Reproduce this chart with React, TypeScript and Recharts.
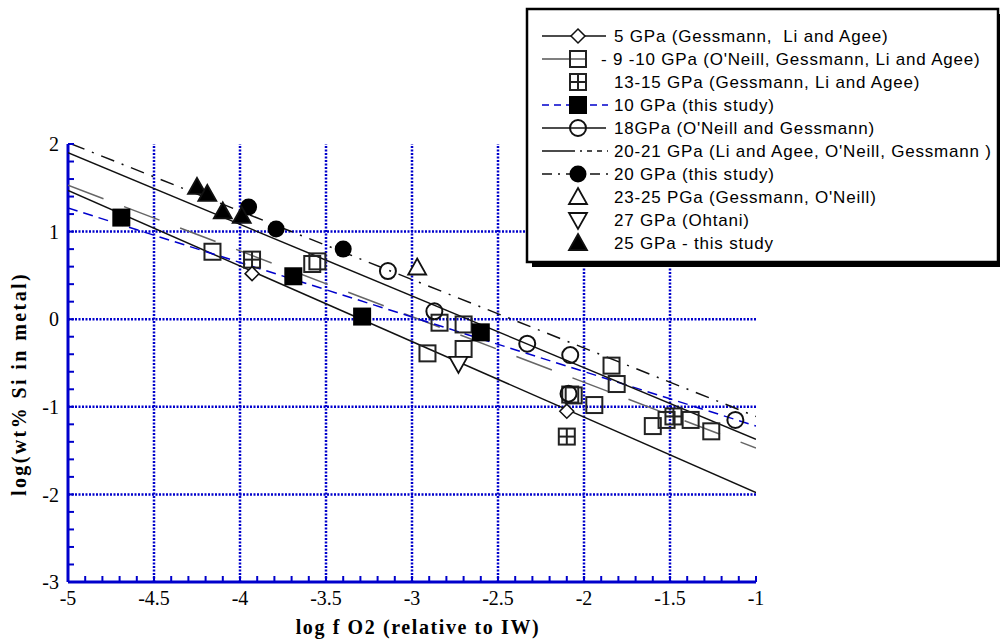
import React from 'react';
import { ComposedChart, Scatter, XAxis, YAxis, ReferenceLine } from 'recharts';

// axis ticks
const xMajor = [-5, -4.5, -4, -3.5, -3, -2.5, -2, -1.5, -1];
const yMajor = [-3, -2, -1, 0, 1, 2];
const xMinor: number[] = [];
for (let i = 0; i <= 40; i++) xMinor.push(Math.round((-5 + i * 0.1) * 10) / 10);
const yMinor: number[] = [];
for (let i = 0; i <= 25; i++) yMinor.push(Math.round((-3 + i * 0.2) * 10) / 10);

// data points
const gpa5 = [{ x: -3.93, y: 0.52 }, { x: -2.1, y: -1.05 }];
const gpa9 = [
  { x: -4.16, y: 0.77 }, { x: -3.58, y: 0.63 }, { x: -3.55, y: 0.66 },
  { x: -2.91, y: -0.39 }, { x: -2.84, y: -0.04 }, { x: -2.7, y: -0.06 },
  { x: -2.7, y: -0.34 }, { x: -2.08, y: -0.86 }, { x: -2.06, y: -0.87 },
  { x: -1.94, y: -0.98 }, { x: -1.84, y: -0.53 }, { x: -1.81, y: -0.74 },
  { x: -1.6, y: -1.22 }, { x: -1.52, y: -1.15 }, { x: -1.38, y: -1.15 },
  { x: -1.26, y: -1.28 },
];
const gpa13 = [{ x: -3.93, y: 0.68 }, { x: -2.1, y: -1.34 }, { x: -1.48, y: -1.11 }];
const gpa10 = [{ x: -4.69, y: 1.16 }, { x: -3.69, y: 0.49 }, { x: -3.29, y: 0.03 }, { x: -2.6, y: -0.15 }];
const gpa18 = [
  { x: -3.14, y: 0.55 }, { x: -2.87, y: 0.09 }, { x: -2.33, y: -0.28 },
  { x: -2.08, y: -0.41 }, { x: -2.09, y: -0.85 }, { x: -1.12, y: -1.15 },
];
const gpa20 = [{ x: -3.95, y: 1.28 }, { x: -3.79, y: 1.03 }, { x: -3.4, y: 0.8 }];
const gpa23 = [{ x: -2.97, y: 0.59 }];
const gpa27 = [{ x: -2.73, y: -0.51 }];
const gpa25 = [{ x: -4.25, y: 1.51 }, { x: -4.19, y: 1.43 }, { x: -4.1, y: 1.23 }, { x: -3.99, y: 1.18 }];

// fit lines (end points)
const fit5 = [{ x: -5, y: 1.47 }, { x: -1, y: -1.98 }];
const fit9 = [{ x: -5, y: 1.53 }, { x: -1, y: -1.47 }];
const fit10 = [{ x: -5, y: 1.27 }, { x: -1, y: -1.22 }];
const fit18 = [{ x: -5, y: 1.9 }, { x: -1, y: -1.37 }];
const fit20 = [{ x: -4.98, y: 2.0 }, { x: -1, y: -1.11 }];

const legendLabels = [
  '5 GPa (Gessmann,  Li and Agee)',
  '- 9 -10 GPa (O\'Neill, Gessmann, Li and Agee)',
  '13-15 GPa (Gessmann, Li and Agee)',
  '10 GPa (this study)',
  '18GPa (O\'Neill and Gessmann)',
  '20-21 GPa (Li and Agee, O\'Neill, Gessmann )',
  '20 GPa (this study)',
  '23-25 PGa (Gessmann, O\'Neill)',
  '27 GPa (Ohtani)',
  '25 GPa - this study',
];

const BLUE = '#0000cc';
const INK = '#111';
const SERIF = '"Liberation Serif", "Times New Roman", serif';
const SANS = '"Liberation Sans", Arial, sans-serif';
const TICK = 6;

const Diamond = ({ cx, cy }: any) => (
  <path d={`M${cx},${cy - 7}L${cx + 7},${cy}L${cx},${cy + 7}L${cx - 7},${cy}Z`} fill="#fff" stroke={INK} strokeWidth={1.5} />
);
const OpenSquare = ({ cx, cy }: any) => (
  <rect x={cx - 8} y={cy - 8} width={16} height={16} fill="none" stroke="#222" strokeWidth={2} />
);
const CrossSquare = ({ cx, cy }: any) => (
  <g fill="none" stroke="#222" strokeWidth={2}>
    <rect x={cx - 8} y={cy - 8} width={16} height={16} />
    <line x1={cx} y1={cy - 8} x2={cx} y2={cy + 8} />
    <line x1={cx - 8} y1={cy} x2={cx + 8} y2={cy} />
  </g>
);
const FilledSquare = ({ cx, cy }: any) => <rect x={cx - 9} y={cy - 9} width={18} height={18} fill="#000" />;
const OpenCircle = ({ cx, cy }: any) => <circle cx={cx} cy={cy} r={8} fill="none" stroke={INK} strokeWidth={2} />;
const FilledCircle = ({ cx, cy }: any) => <circle cx={cx} cy={cy} r={8.5} fill="#000" />;
const TriUp = ({ cx, cy, fill }: any) => (
  <path d={`M${cx},${cy - 9}L${cx + 9},${cy + 7}L${cx - 9},${cy + 7}Z`} fill={fill || '#fff'} stroke={INK} strokeWidth={1.8} />
);
const TriDown = ({ cx, cy }: any) => (
  <path d={`M${cx - 9},${cy - 7}L${cx + 9},${cy - 7}L${cx},${cy + 9}Z`} fill="#fff" stroke={INK} strokeWidth={1.8} />
);
const NoDot = () => <g />;

// tick renderers: (x, y) is the point on the axis line, ticks point inward
const bottomTick = (p: any) => {
  const v = p.payload.value;
  return (
    <g>
      <line x1={p.x} y1={p.y} x2={p.x} y2={p.y - TICK} stroke={BLUE} strokeWidth={2} />
      {xMajor.includes(v) && (
        <text x={p.x} y={p.y + 9} dy="0.71em" textAnchor="middle" fontFamily={SERIF} fontSize={20} fill="#000">
          {String(v)}
        </text>
      )}
    </g>
  );
};
const topTick = (p: any) => (
  <line x1={p.x} y1={p.y} x2={p.x} y2={p.y + TICK} stroke={BLUE} strokeWidth={2} />
);
const leftTick = (p: any) => {
  const v = p.payload.value;
  return (
    <g>
      <line x1={p.x} y1={p.y} x2={p.x + TICK} y2={p.y} stroke={BLUE} strokeWidth={2} />
      {yMajor.includes(v) && (
        <text x={p.x - 9} y={p.y} dy="0.36em" textAnchor="end" fontFamily={SERIF} fontSize={20} fill="#000">
          {String(v)}
        </text>
      )}
    </g>
  );
};
const rightTick = (p: any) => (
  <line x1={p.x} y1={p.y} x2={p.x - TICK} y2={p.y} stroke={BLUE} strokeWidth={2} />
);

const lineSeries = (data: any[], stroke: string, dash?: string, w = 1.5) => (
  <Scatter
    data={data}
    xAxisId="b"
    yAxisId="l"
    fill={stroke}
    shape={NoDot}
    line={{ stroke, strokeWidth: w, strokeDasharray: dash }}
    isAnimationActive={false}
  />
);

const Legend = () => {
  const rows = [36, 59, 82, 105, 128, 151, 174, 197, 220, 243];
  const mx = 578;
  return (
    <svg width={1000} height={639} style={{ position: 'absolute', left: 0, top: 0 }}>
      <rect x={532} y={14} width={472} height={253} fill="#000" />
      <rect x={527} y={9} width={471} height={253} fill="#fff" stroke="#000" strokeWidth={2.5} />
      <line x1={542} y1={rows[0]} x2={606} y2={rows[0]} stroke={INK} strokeWidth={1.5} />
      <Diamond cx={mx} cy={rows[0]} />
      <line x1={542} y1={rows[1]} x2={586} y2={rows[1]} stroke="#555" strokeWidth={1.5} />
      <OpenSquare cx={mx} cy={rows[1]} />
      <CrossSquare cx={mx} cy={rows[2]} />
      <line x1={542} y1={rows[3]} x2={608} y2={rows[3]} stroke={BLUE} strokeWidth={1.5} strokeDasharray="7 5" />
      <FilledSquare cx={mx} cy={rows[3]} />
      <line x1={542} y1={rows[4]} x2={606} y2={rows[4]} stroke={INK} strokeWidth={1.5} />
      <OpenCircle cx={mx} cy={rows[4]} />
      <line x1={542} y1={rows[5]} x2={608} y2={rows[5]} stroke={INK} strokeWidth={1.5} strokeDasharray="33 5 2 5 5 5 5 5" />
      <line x1={542} y1={rows[6]} x2={608} y2={rows[6]} stroke={INK} strokeWidth={1.5} strokeDasharray="10 6 2 6" />
      <FilledCircle cx={mx} cy={rows[6]} />
      <TriUp cx={mx} cy={rows[7]} />
      <TriDown cx={mx} cy={rows[8]} />
      <TriUp cx={mx} cy={rows[9]} fill="#000" />
      {legendLabels.map((t, i) => (
        <text
          key={i}
          x={i === 1 ? 601 : 614}
          y={rows[i]}
          dy="0.36em"
          fontFamily={SANS}
          fontSize={17}
          letterSpacing={0.8}
          fill="#000"
          style={{ whiteSpace: 'pre' }}
        >
          {t}
        </text>
      ))}
    </svg>
  );
};

const Titles = () => (
  <svg width={1000} height={639} style={{ position: 'absolute', left: 0, top: 0 }}>
    <text x={418} y={634} textAnchor="middle" fontFamily={SERIF} fontWeight="bold" fontSize={20} letterSpacing={1.6} fill="#000">
      log f O2 (relative to IW)
    </text>
    <text
      transform="translate(26,384) rotate(-90)"
      textAnchor="middle"
      fontFamily={SERIF}
      fontWeight="bold"
      fontSize={20}
      letterSpacing={2.4}
      fill="#000"
    >
      log(wt% Si in metal)
    </text>
  </svg>
);

const axisLine = { stroke: BLUE, strokeWidth: 3 };

export default function App() {
  return (
    <div style={{ position: 'fixed', left: 0, top: 0, width: 1000, height: 639, background: '#fff' }}>
      <ComposedChart width={1000} height={639} margin={{ top: 144, right: 244, bottom: 17, left: 8 }}>
        <XAxis
          xAxisId="b"
          type="number"
          dataKey="x"
          domain={[-5, -1]}
          allowDataOverflow
          ticks={xMinor}
          interval={0}
          height={40}
          tickSize={0}
          tickMargin={0}
          tickLine={false}
          axisLine={axisLine}
          tick={bottomTick}
        />
        <XAxis
          xAxisId="t"
          orientation="top"
          type="number"
          domain={[-5, -1]}
          allowDataOverflow
          ticks={xMinor}
          interval={0}
          mirror
          height={0}
          tickSize={0}
          tickMargin={0}
          tickLine={false}
          axisLine={axisLine}
          tick={topTick}
        />
        <YAxis
          yAxisId="l"
          type="number"
          dataKey="y"
          domain={[-3, 2]}
          allowDataOverflow
          ticks={yMinor}
          interval={0}
          width={60}
          tickSize={0}
          tickMargin={0}
          tickLine={false}
          axisLine={axisLine}
          tick={leftTick}
        />
        <YAxis
          yAxisId="r"
          orientation="right"
          type="number"
          domain={[-3, 2]}
          allowDataOverflow
          ticks={yMinor}
          interval={0}
          mirror
          width={0}
          tickSize={0}
          tickMargin={0}
          tickLine={false}
          axisLine={axisLine}
          tick={rightTick}
        />
        {xMajor.slice(1, -1).map((v) => (
          <ReferenceLine key={'gx' + v} x={v} xAxisId="b" yAxisId="l" stroke={BLUE} strokeWidth={2.5} strokeDasharray="2 1.5" />
        ))}
        {yMajor.slice(1, -1).map((v) => (
          <ReferenceLine key={'gy' + v} y={v} xAxisId="b" yAxisId="l" stroke={BLUE} strokeWidth={2.5} strokeDasharray="2 1.5" />
        ))}
        {lineSeries(fit5, INK)}
        {lineSeries(fit9, '#666', '38 22')}
        {lineSeries(fit10, BLUE, '10 6')}
        {lineSeries(fit18, INK)}
        {lineSeries(fit20, INK, '14 8 2 8')}
        <Scatter data={gpa9} xAxisId="b" yAxisId="l" shape={OpenSquare} isAnimationActive={false} />
        <Scatter data={gpa13} xAxisId="b" yAxisId="l" shape={CrossSquare} isAnimationActive={false} />
        <Scatter data={gpa5} xAxisId="b" yAxisId="l" shape={Diamond} isAnimationActive={false} />
        <Scatter data={gpa10} xAxisId="b" yAxisId="l" shape={FilledSquare} isAnimationActive={false} />
        <Scatter data={gpa18} xAxisId="b" yAxisId="l" shape={OpenCircle} isAnimationActive={false} />
        <Scatter data={gpa20} xAxisId="b" yAxisId="l" shape={FilledCircle} isAnimationActive={false} />
        <Scatter data={gpa23} xAxisId="b" yAxisId="l" shape={TriUp} isAnimationActive={false} />
        <Scatter data={gpa27} xAxisId="b" yAxisId="l" shape={TriDown} isAnimationActive={false} />
        <Scatter data={gpa25} xAxisId="b" yAxisId="l" shape={(p: any) => <TriUp {...p} fill="#000" />} isAnimationActive={false} />
      </ComposedChart>
      <Titles />
      <Legend />
    </div>
  );
}
